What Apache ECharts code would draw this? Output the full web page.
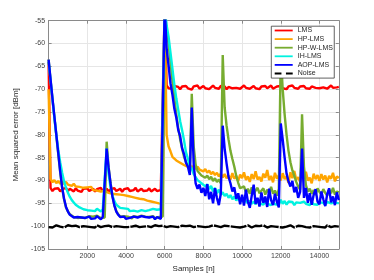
<!DOCTYPE html>
<html>
<head>
<meta charset="utf-8">
<script src="https://cdn.jsdelivr.net/npm/echarts@6/dist/echarts.min.js"></script>
<style>html,body{margin:0;padding:0;background:#fff}#c{width:374px;height:280px}</style>
</head>
<body>
<div id="c"></div>
<script>
const seriesNames = ['LMS', 'HP-LMS', 'HP-W-LMS', 'IH-LMS', 'AOP-LMS', 'Noise'];
const xRange = [0, 15000, 2000];
const yRange = [-105, -55, 5];

const samples = [
0,100,200,300,400,500,600,700,800,900,
1000,1100,1200,1300,1400,1500,1600,1700,1800,1900,
2000,2100,2200,2300,2400,2500,2600,2700,2800,2900,
3000,3100,3200,3300,3400,3500,3600,3700,3800,3900,
4000,4100,4200,4300,4400,4500,4600,4700,4800,4900,
5000,5100,5200,5300,5400,5500,5600,5700,5800,5900,
6000,6100,6200,6300,6400,6500,6600,6700,6800,6900,
7000,7100,7200,7300,7400,7500,7600,7700,7800,7900,
8000,8100,8200,8300,8400,8500,8600,8700,8800,8900,
9000,9100,9200,9300,9400,9500,9600,9700,9800,9900,
10000,10100,10200,10300,10400,10500,10600,10700,10800,10900,
11000,11100,11200,11300,11400,11500,11600,11700,11800,11900,
12000,12100,12200,12300,12400,12500,12600,12700,12800,12900,
13000,13100,13200,13300,13400,13500,13600,13700,13800,13900,
14000,14100,14200,14300,14400,14500,14600,14700,14800,14900,
15000];

const lms = [
-64.0,-91.6,-92.3,-91.8,-92.1,-91.7,-92.4,-91.9,-92.2,-91.6,
-92.3,-91.8,-92.0,-92.4,-91.7,-92.2,-91.9,-92.5,-91.8,-92.1,
-91.7,-92.3,-92.0,-91.8,-92.4,-91.9,-92.2,-91.6,-92.3,-92.0,
-91.8,-92.4,-91.9,-92.1,-91.7,-92.3,-92.0,-91.8,-92.5,-91.9,
-92.2,-91.7,-92.3,-91.9,-92.1,-91.6,-92.4,-92.0,-91.8,-92.3,
-91.9,-92.2,-91.7,-92.4,-92.0,-91.8,-92.3,-91.9,-92.1,-91.8,
-52.0,-69.2,-69.8,-69.4,-69.9,-69.3,-69.7,-69.5,-70.0,-69.4,
-69.7,-69.3,-69.8,-69.5,-70.1,-69.4,-69.6,-69.2,-69.9,-69.5,
-69.3,-69.8,-69.4,-70.0,-69.6,-69.2,-69.7,-69.5,-69.9,-69.3,
-69.6,-69.4,-70.0,-69.5,-69.2,-69.8,-69.4,-69.7,-69.3,-69.9,
-69.5,-69.2,-69.7,-69.4,-69.9,-69.6,-69.3,-69.8,-69.5,-70.0,
-69.4,-69.7,-69.3,-69.8,-69.5,-69.2,-69.9,-69.6,-69.4,-69.7,
-69.3,-69.8,-69.5,-70.0,-69.4,-69.6,-69.2,-69.7,-69.5,-69.9,
-69.4,-69.6,-69.3,-69.8,-69.5,-69.9,-69.4,-69.2,-69.7,-69.5,
-69.8,-69.4,-69.6,-69.3,-69.9,-69.5,-69.2,-69.7,-69.4,-69.6,
-69.5];

const hpLms = [
-70.0,-89.6,-90.4,-89.9,-90.6,-90.1,-90.7,-90.2,-90.8,-90.3,
-90.9,-90.5,-91.2,-90.7,-91.3,-90.9,-91.4,-91.0,-91.6,-91.2,
-91.5,-91.9,-91.4,-92.1,-91.7,-92.2,-91.8,-92.4,-92.0,-92.3,
-92.2,-92.7,-92.4,-92.9,-92.5,-93.0,-92.6,-93.1,-92.8,-93.2,
-92.9,-93.4,-93.1,-93.6,-93.3,-93.8,-93.5,-94.0,-93.6,-94.1,
-93.9,-94.4,-94.1,-94.6,-94.3,-94.8,-94.5,-95.0,-94.6,-95.1,
-52.0,-80.0,-82.5,-83.6,-84.8,-84.9,-85.6,-85.4,-86.1,-85.9,
-86.6,-86.2,-87.0,-86.5,-87.3,-86.8,-87.5,-87.0,-87.6,-87.2,
-88.0,-87.5,-88.3,-87.8,-88.6,-88.1,-88.8,-88.3,-89.1,-88.5,
-89.3,-88.6,-89.5,-88.9,-89.8,-88.4,-89.6,-89.0,-90.1,-88.7,
-89.5,-88.2,-89.9,-89.1,-90.3,-88.6,-89.7,-88.0,-89.8,-89.2,
-90.2,-88.5,-89.4,-87.7,-89.9,-89.0,-90.4,-88.3,-89.6,-88.9,
-90.0,-88.4,-89.7,-89.1,-90.5,-88.2,-89.5,-87.9,-89.8,-89.3,
-90.3,-88.7,-89.2,-88.1,-90.0,-89.4,-90.6,-88.5,-89.7,-88.8,
-90.1,-88.6,-89.8,-88.9,-90.4,-89.0,-89.6,-88.3,-90.2,-89.1,
-89.5];

const hpwLms = [
-63.5,-68.0,-72.2,-76.2,-80.2,-84.2,-88.2,-91.6,-94.1,-95.9,
-96.8,-97.4,-97.8,-98.0,-97.9,-98.2,-97.8,-98.1,-97.9,-98.2,
-98.0,-97.8,-98.1,-97.9,-98.2,-97.7,-98.0,-98.2,-97.9,-98.1,
-81.5,-87.0,-90.5,-93.4,-95.4,-96.7,-97.4,-97.9,-98.1,-97.8,
-98.2,-97.9,-98.0,-98.3,-97.8,-98.1,-98.0,-98.2,-97.7,-98.0,
-97.9,-98.2,-98.0,-98.1,-97.8,-98.3,-97.9,-98.0,-98.2,-97.9,
-52.0,-57.0,-60.0,-64.0,-68.0,-72.0,-75.5,-78.5,-81.0,-83.0,
-84.8,-85.9,-86.8,-87.5,-71.0,-82.5,-86.5,-87.9,-88.3,-88.9,
-88.6,-89.4,-88.9,-89.7,-89.2,-90.1,-89.5,-90.3,-89.8,-90.6,
-62.5,-74.0,-78.0,-81.0,-83.5,-85.3,-87.0,-89.0,-90.5,-91.7,
-92.0,-91.3,-92.6,-91.8,-92.9,-91.5,-93.0,-92.2,-91.6,-92.8,
-92.4,-91.7,-93.1,-92.0,-92.7,-91.4,-92.9,-92.2,-93.3,-91.9,
-62.0,-70.0,-75.5,-80.0,-83.5,-86.0,-87.8,-89.0,-90.3,-91.3,
-92.0,-75.5,-87.0,-91.0,-92.4,-91.8,-92.9,-92.1,-93.2,-91.7,
-92.5,-93.0,-91.9,-92.7,-93.3,-92.0,-92.8,-91.6,-93.1,-92.4,
-92.6];

const ihLms = [
-64.0,-68.0,-72.3,-76.3,-80.0,-83.3,-86.0,-88.3,-90.2,-91.6,
-92.7,-93.6,-94.3,-94.8,-95.3,-95.5,-95.9,-95.9,-96.3,-96.1,
-96.5,-96.2,-96.6,-96.3,-96.7,-96.2,-96.5,-96.8,-96.3,-96.6,
-83.0,-88.5,-91.5,-93.3,-94.5,-95.3,-95.7,-96.0,-96.4,-96.1,
-96.5,-96.2,-96.7,-96.3,-96.6,-96.2,-96.8,-96.4,-96.5,-96.3,
-96.7,-96.3,-96.5,-96.8,-96.2,-96.6,-96.4,-96.7,-96.3,-96.6,
-52.0,-56.0,-58.5,-62.0,-65.5,-69.0,-72.0,-74.5,-77.0,-79.0,
-81.2,-83.8,-85.2,-86.9,-87.4,-88.6,-88.9,-89.9,-89.6,-90.6,
-90.4,-91.3,-90.8,-91.9,-91.2,-92.4,-91.6,-92.8,-92.0,-93.1,
-92.6,-93.4,-92.9,-93.8,-93.2,-94.1,-93.5,-94.4,-93.8,-94.6,
-94.1,-94.8,-94.3,-95.0,-94.4,-95.1,-94.6,-95.2,-94.5,-95.0,
-94.7,-95.3,-94.6,-95.1,-94.8,-95.4,-94.7,-95.2,-94.9,-95.3,
-94.2,-95.1,-94.5,-95.3,-94.6,-95.0,-94.7,-95.4,-94.8,-95.2,
-94.9,-95.3,-94.6,-95.1,-94.8,-95.4,-94.7,-95.2,-95.0,-95.3,
-94.8,-95.2,-94.9,-95.4,-94.7,-95.1,-95.0,-95.3,-94.8,-95.2,
-95.0];

const aopLms = [
-63.5,-67.8,-72.0,-76.0,-80.0,-84.0,-88.0,-91.5,-94.0,-95.8,
-96.8,-97.5,-97.9,-98.1,-98.3,-98.0,-98.4,-98.1,-98.5,-98.2,
-98.1,-97.9,-98.4,-98.0,-98.3,-97.8,-98.2,-98.5,-98.0,-98.3,
-83.0,-87.2,-90.6,-93.5,-95.5,-96.8,-97.5,-98.0,-98.3,-97.9,
-98.4,-98.0,-98.2,-98.5,-97.9,-98.3,-98.1,-98.4,-97.8,-98.2,
-98.0,-98.4,-98.1,-98.3,-97.9,-98.5,-98.0,-98.2,-98.4,-98.1,
-52.0,-61.0,-64.8,-68.7,-71.2,-74.3,-76.2,-78.9,-80.3,-82.9,
-84.2,-86.1,-87.0,-88.8,-74.0,-86.5,-90.6,-91.8,-90.9,-92.7,
-91.6,-93.4,-90.8,-94.1,-92.5,-95.0,-91.7,-93.8,-95.4,-92.9,
-78.0,-83.0,-86.3,-89.2,-90.6,-92.4,-91.5,-94.0,-92.8,-95.2,
-93.1,-95.5,-92.0,-94.6,-96.0,-93.3,-90.9,-95.1,-93.8,-95.7,
-92.6,-94.9,-93.5,-95.8,-91.8,-94.3,-95.4,-92.9,-94.7,-95.9,
-77.5,-81.0,-85.0,-88.5,-90.2,-91.3,-90.1,-92.6,-91.4,-93.8,
-92.5,-83.0,-93.8,-91.6,-94.9,-92.8,-95.3,-93.1,-91.9,-94.6,
-95.2,-92.4,-94.1,-95.6,-93.0,-91.7,-94.8,-93.5,-95.4,-92.6,
-94.3];

const noise = [
-100.2,-99.9,-100.3,-100.0,-99.8,-100.2,-100.1,-99.9,-100.3,-100.0,
-99.8,-100.2,-100.0,-100.3,-99.9,-100.1,-100.2,-99.8,-100.0,-100.3,
-100.1,-99.9,-100.2,-100.0,-100.3,-99.8,-100.1,-100.2,-99.9,-100.0,
-100.3,-99.9,-100.1,-100.2,-99.8,-100.0,-100.3,-100.1,-99.9,-100.2,
-100.0,-100.2,-99.8,-100.1,-100.3,-99.9,-100.0,-100.2,-99.9,-100.1,
-100.3,-100.0,-99.9,-100.2,-100.1,-99.8,-100.2,-100.0,-100.3,-99.9,
-100.1,-100.2,-99.9,-100.0,-100.3,-100.1,-99.8,-100.2,-100.0,-99.9,
-100.2,-100.0,-100.3,-99.9,-100.1,-100.2,-99.8,-100.0,-100.3,-100.1,
-99.9,-100.2,-100.0,-100.1,-100.3,-99.8,-100.2,-100.0,-99.9,-100.2,
-100.1,-99.9,-100.3,-100.0,-100.2,-100.1,-99.8,-100.2,-100.0,-100.3,
-99.9,-100.1,-100.2,-99.8,-100.0,-100.3,-100.1,-99.9,-100.2,-100.0,
-100.2,-99.8,-100.1,-100.3,-99.9,-100.0,-100.2,-100.1,-99.8,-100.2,
-100.0,-100.3,-99.9,-100.1,-100.2,-99.8,-100.0,-100.3,-100.1,-99.9,
-100.2,-100.0,-99.8,-100.2,-100.1,-100.3,-99.9,-100.0,-100.2,-100.1,
-99.9,-100.2,-100.0,-100.3,-99.8,-100.1,-100.2,-99.9,-100.0,-100.2,
-100.1];

const colors = ['#ff0000', '#ffa500', '#77ac30', '#00f2e0', '#0000ff', '#000000'];
const values = [lms, hpLms, hpwLms, ihLms, aopLms, noise];

const FONT = '"Liberation Sans", Arial, sans-serif';
const AXIS_COLOR = '#8a8a8a';
const LABEL_COLOR = '#404040';
const LINE_ICON = 'path://M0,0H20V2H0Z';
const DASH_ICON = 'path://M0,0H7.5V2H0Z M12.5,0H20V2H12.5Z';

const chart = echarts.init(document.getElementById('c'), null, {renderer: 'canvas'});

const series = seriesNames.map((name, k) => ({
  name: name,
  type: 'line',
  xAxisIndex: 0,
  yAxisIndex: 0,
  data: samples.map((s, i) => [s, values[k][i]]),
  symbol: 'none',
  showSymbol: false,
  sampling: 'none',
  clip: true,
  lineStyle: {
    color: colors[k],
    width: 2.4,
    type: name === 'Noise' ? [16, 1.2] : 'solid'
  },
  itemStyle: {color: colors[k]},
  emphasis: {disabled: true}
}));

const baseX = {type: 'value', min: xRange[0], max: xRange[1], interval: xRange[2]};
const baseY = {type: 'value', min: yRange[0], max: yRange[1], interval: yRange[2]};
const plain = v => String(v);

chart.setOption({
  animation: false,
  backgroundColor: '#ffffff',
  textStyle: {fontFamily: FONT},
  grid: {left: 48.6, right: 35.2, top: 20.7, bottom: 31, containLabel: false},
  legend: {
    data: seriesNames.map((n, k) => ({
      name: n,
      icon: n === 'Noise' ? DASH_ICON : LINE_ICON,
      itemStyle: {color: colors[k]}
    })),
    orient: 'vertical',
    left: 271.3,
    top: 26.2,
    itemWidth: 18,
    itemHeight: 2.2,
    itemGap: 0,
    padding: [0, 1.3, 0.3, 3.4],
    backgroundColor: '#ffffff',
    borderColor: '#3a3a3a',
    borderWidth: 0.8,
    borderRadius: 0,
    textStyle: {fontSize: 7, color: '#262626', fontFamily: FONT, lineHeight: 8.6},
    z: 10
  },
  xAxis: [
    Object.assign({}, baseX, {
      position: 'bottom',
      name: 'Samples [n]',
      nameLocation: 'middle',
      nameGap: 13,
      nameTextStyle: {fontSize: 8, color: '#262626', fontFamily: FONT},
      axisLine: {show: true, onZero: false, lineStyle: {color: AXIS_COLOR, width: 1}},
      axisTick: {show: true, inside: true, length: 3, lineStyle: {color: AXIS_COLOR}},
      axisLabel: {fontSize: 7, color: LABEL_COLOR, margin: 4, showMinLabel: false, showMaxLabel: false, fontFamily: FONT, formatter: plain},
      splitLine: {show: true, lineStyle: {color: '#e6e6e6', width: 1}}
    }),
    Object.assign({}, baseX, {
      position: 'top',
      axisLine: {show: true, onZero: false, lineStyle: {color: AXIS_COLOR, width: 1}},
      axisTick: {show: true, inside: true, length: 3, lineStyle: {color: AXIS_COLOR}},
      axisLabel: {show: false},
      splitLine: {show: false}
    })
  ],
  yAxis: [
    Object.assign({}, baseY, {
      position: 'left',
      name: 'Mean squared error [dBm]',
      nameLocation: 'middle',
      nameGap: 21,
      nameTextStyle: {fontSize: 8, color: '#262626', fontFamily: FONT},
      axisLine: {show: true, onZero: false, lineStyle: {color: AXIS_COLOR, width: 1}},
      axisTick: {show: true, inside: true, length: 3, lineStyle: {color: AXIS_COLOR}},
      axisLabel: {fontSize: 7, color: LABEL_COLOR, margin: 3.5, fontFamily: FONT, formatter: plain},
      splitLine: {show: true, lineStyle: {color: '#e6e6e6', width: 1}}
    }),
    Object.assign({}, baseY, {
      position: 'right',
      axisLine: {show: true, onZero: false, lineStyle: {color: AXIS_COLOR, width: 1}},
      axisTick: {show: true, inside: true, length: 3, lineStyle: {color: AXIS_COLOR}},
      axisLabel: {show: false},
      splitLine: {show: false}
    })
  ],
  series: series
});
</script>
</body>
</html>
